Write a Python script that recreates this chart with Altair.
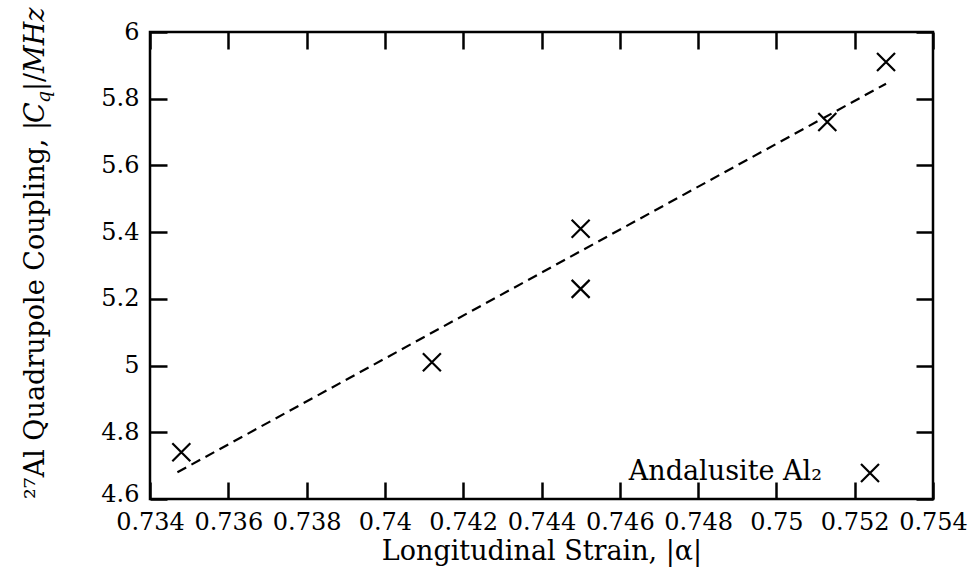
import altair as alt
import pandas as pd

# Measured 27Al quadrupole coupling constants against longitudinal strain
strain = [0.7348, 0.7412, 0.7450, 0.7450, 0.7513, 0.7528]
coupling = [4.74, 5.01, 5.41, 5.23, 5.73, 5.91]

# Least-squares trend line end points
fit_strain = [0.7347, 0.7528]
fit_coupling = [4.68, 5.845]

x_ticks = [0.734, 0.736, 0.738, 0.740, 0.742, 0.744, 0.746, 0.748, 0.750, 0.752, 0.754]
y_ticks = [4.6, 4.8, 5.0, 5.2, 5.4, 5.6, 5.8, 6.0]

legend_label = "Andalusite Al₂"

FONT = "DejaVu Serif"
W, H = 783, 467
TICK = 17
CROSS = "M-1,-1L1,1M-1,1L1,-1"

x_scale = alt.Scale(domain=[0.734, 0.754], nice=False, zero=False)
y_scale = alt.Scale(domain=[4.6, 6.0], nice=False, zero=False)

tick_style = dict(
    domain=False, grid=False, tickSize=TICK, offset=-TICK, tickColor="black",
    tickWidth=2.5, labelFont=FONT, labelColor="black", labelOverlap=False,
    labelFlush=False, labelBound=False,
)

pts = pd.DataFrame({"strain": strain, "coupling": coupling})
fit = pd.DataFrame({"strain": fit_strain, "coupling": fit_coupling})

points = alt.Chart(pts).mark_point(
    shape=CROSS, size=324, filled=False, stroke="black", strokeWidth=2.2, opacity=1
).encode(
    x=alt.X("strain:Q", scale=x_scale, axis=alt.Axis(
        orient="bottom", values=x_ticks, format=".3~f", labelFontSize=24,
        labelPadding=11, title="Longitudinal Strain, |α|", titleFont=FONT,
        titleFontSize=27, titleFontWeight="normal", titleColor="black",
        titlePadding=4, **tick_style)),
    y=alt.Y("coupling:Q", scale=y_scale, axis=alt.Axis(
        orient="left", values=y_ticks, format=".1~f", labelFontSize=24,
        labelPadding=11, title=None,
        # lift the lowest label a little so it clears the corner x label
        labelOffset={"condition": {"test": "datum.value <= 4.6", "value": -5}, "value": 0},
        **tick_style)),
)

trend = alt.Chart(fit).mark_line(
    stroke="black", strokeWidth=2.2, strokeDash=[10, 6]
).encode(
    x=alt.X("strain:Q", scale=x_scale, axis=alt.Axis(
        orient="top", values=x_ticks, labels=False, title=None, **tick_style)),
    y=alt.Y("coupling:Q", scale=y_scale, axis=alt.Axis(
        orient="right", values=y_ticks, labels=False, title=None, **tick_style)),
)

one = pd.DataFrame({"k": [0]})


def ylabel_piece(text, y, x=-106, size=27, style="normal"):
    return alt.Chart(one).mark_text(
        text=text, font=FONT, fontSize=size, fontStyle=style, angle=270,
        align="left", baseline="alphabetic", color="black",
    ).encode(x=alt.value(x), y=alt.value(y))


ylabel = [
    ylabel_piece("²⁷Al Quadrupole Coupling, |", 467),
    ylabel_piece("C", 91, style="italic"),
    ylabel_piece("q", 71, x=-100, size=19, style="italic"),
    ylabel_piece("|/", 59),
    ylabel_piece("MHz", 41, style="italic"),
]

legend_text = alt.Chart(one).mark_text(
    text=legend_label, font=FONT, fontSize=27, align="right",
    baseline="alphabetic", color="black",
).encode(x=alt.value(672), y=alt.value(448))

legend_mark = alt.Chart(one).mark_point(
    shape=CROSS, size=324, filled=False, stroke="black", strokeWidth=2.2, opacity=1
).encode(x=alt.value(720), y=alt.value(441))

chart = alt.layer(points, trend, legend_text, legend_mark, *ylabel).resolve_axis(
    x="independent", y="independent"
).properties(
    width=W, height=H,
    padding={"left": 150, "top": 32, "right": 35, "bottom": 85},
    autosize=alt.AutoSizeParams(type="none"),
    background="white",
).configure_view(stroke="black", strokeWidth=2.5)

chart.save("out.html", embed_options={"renderer": "svg", "actions": False})
